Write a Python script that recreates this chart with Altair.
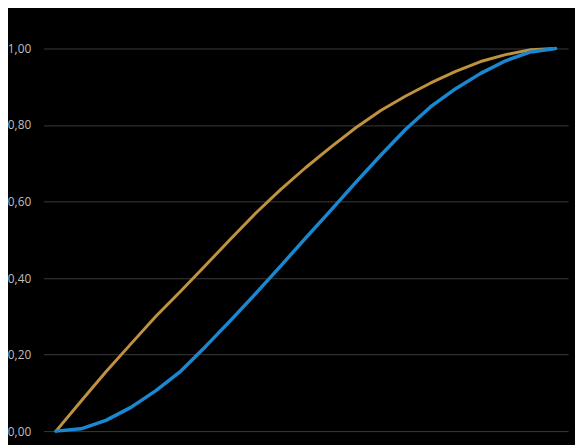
import altair as alt
import pandas as pd

steps = list(range(21))
gold = [0.0, 0.078, 0.155, 0.228, 0.300, 0.366, 0.434, 0.503, 0.570, 0.632, 0.689,
        0.742, 0.793, 0.838, 0.876, 0.910, 0.940, 0.966, 0.984, 0.997, 1.0]
blue = [0.0, 0.006, 0.028, 0.062, 0.106, 0.157, 0.222, 0.290, 0.360, 0.432, 0.505,
        0.577, 0.650, 0.721, 0.789, 0.848, 0.895, 0.935, 0.968, 0.991, 1.0]

df_gold = pd.DataFrame({"x": steps, "y": gold, "s": "A"})
df_blue = pd.DataFrame({"x": steps, "y": blue, "s": "B"})

xenc = alt.X("x:O", axis=None, scale=alt.Scale(type="point", padding=0.5))
yenc = alt.Y("y:Q", scale=alt.Scale(domain=[0, 1]),
             axis=alt.Axis(values=[0, 0.2, 0.4, 0.6, 0.8, 1.0],
                           labelExpr="replace(format(datum.value, '.2f'), '.', ',')",
                           title=None, domain=False, ticks=False,
                           labelPadding=13, labelColor="#bfbfbf",
                           labelFont="Open Sans", labelFontSize=12,
                           gridColor="#3b3b3b", gridWidth=1))

g = alt.Chart(df_gold).mark_line(color="#c0913f", strokeWidth=3, strokeCap="round",
                                  strokeJoin="round").encode(x=xenc, y=yenc)
b = alt.Chart(df_blue).mark_line(color="#1a87d1", strokeWidth=3.5, strokeCap="round",
                                  strokeJoin="round").encode(x=xenc, y=yenc)

chart = (g + b).properties(
    width=532, height=388, background="#000000",
    autosize=alt.AutoSizeParams(type="none"),
    padding={"left": 36, "top": 38, "right": 7, "bottom": 11},
).configure_view(stroke=None)

chart.save("out.html", embed_options={"renderer": "svg", "actions": False})
